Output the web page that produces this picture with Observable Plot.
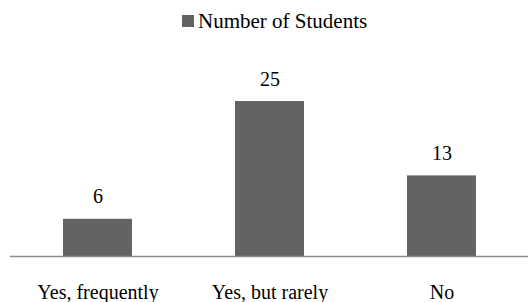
<!DOCTYPE html>
<html>
<head>
<meta charset="utf-8">
<script src="https://cdn.jsdelivr.net/npm/d3@7"></script>
<script src="https://cdn.jsdelivr.net/npm/@observablehq/plot@0.6"></script>
<style>
  html, body { margin: 0; padding: 0; background: #fff; }
  body { width: 528px; height: 302px; overflow: hidden; font-family: "Liberation Serif", "Times New Roman", serif; }
  #legend { position: relative; height: 40px; width: 528px; color: #000; }
  #legend .sw { position: absolute; left: 182px; top: 15px; width: 12px; height: 12px; background: #636363; }
  #legend .lbl { position: absolute; left: 198px; top: 11px; font-size: 21px; line-height: 21px; white-space: nowrap; }
  #chart svg { display: block; }
</style>
</head>
<body>
<div id="legend"><span class="sw"></span><span class="lbl">Number of Students</span></div>
<div id="chart"></div>
<script>
const categories = ["Yes, frequently", "Yes, but rarely", "No"];
const students = [6, 25, 13];
const seriesName = "Number of Students";

const data = categories.map((c, i) => ({category: c, value: students[i]}));

const chart = Plot.plot({
  width: 528,
  height: 262,
  marginLeft: 10,
  marginRight: 0,
  marginTop: 30,
  marginBottom: 46,
  style: {fontFamily: "'Liberation Serif', 'Times New Roman', serif", fontSize: "20px", background: "#fff", color: "#000", overflow: "visible"},
  x: {domain: categories, paddingInner: 0.6, paddingOuter: 0.3, label: null},
  y: {domain: [0, 30], axis: null},
  marks: [
    Plot.barY(data, {x: "category", y: "value", fill: "#636363"}),
    Plot.ruleY([0], {stroke: "#8a8a8a", strokeWidth: 1.5}),
    Plot.text(data, {x: "category", y: "value", text: d => String(d.value), lineAnchor: "bottom", dy: -16, fontSize: 20, fill: "#000"}),
    Plot.axisX({tickSize: 0, tickPadding: 0, dy: 28, fontSize: 20, fill: "#000", label: null})
  ]
});
document.getElementById("chart").appendChild(chart);
</script>
</body>
</html>
